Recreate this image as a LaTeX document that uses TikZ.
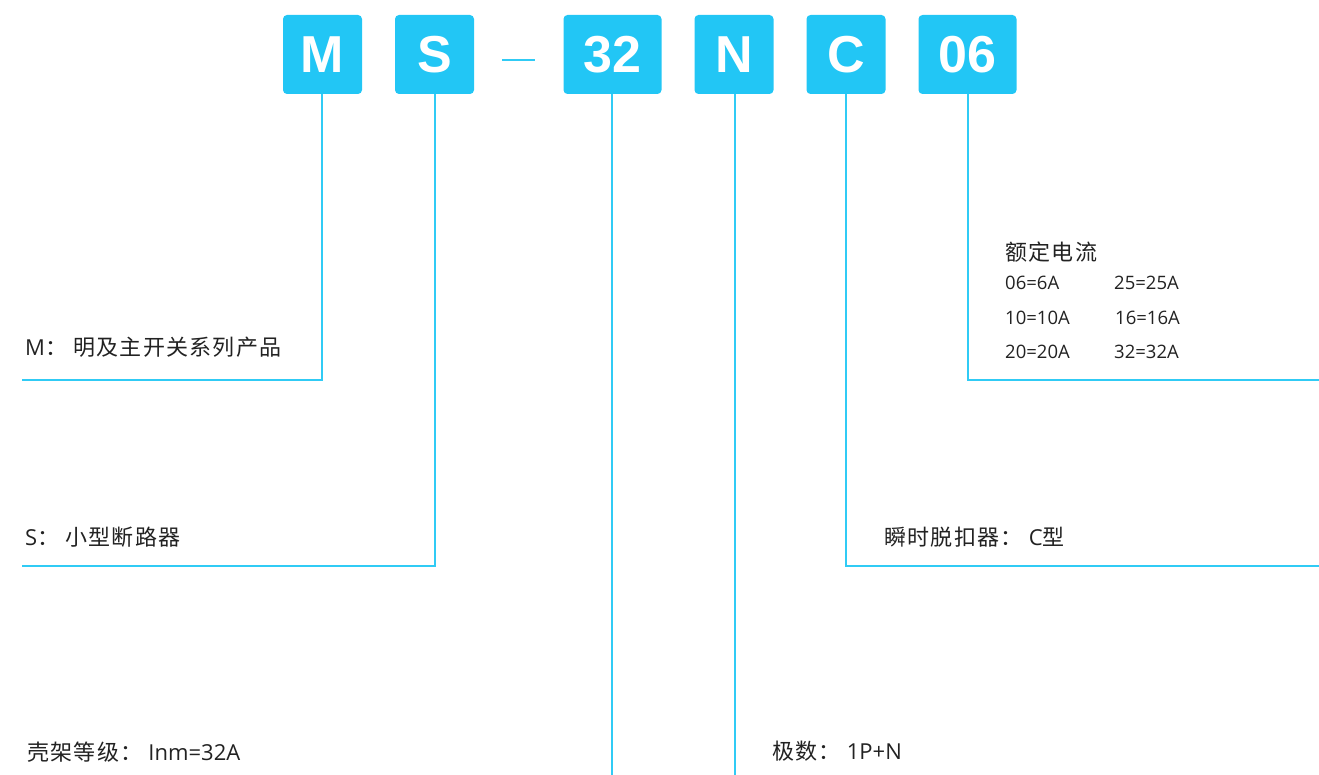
\documentclass[tikz,border=0pt]{standalone}
\usepackage{fontspec}
\newfontfamily\cjk[LetterSpace=6]{Noto Sans CJK SC}
\newfontfamily\latf{Open Sans}
\newfontfamily\boxfont{Liberation Sans}
\newcommand\lat[1]{{\latf #1}}
\newcommand\csep{：\hspace{6pt}}
\definecolor{boxblue}{HTML}{22C6F5}
\definecolor{lineblue}{HTML}{30CBF5}
\definecolor{txt}{HTML}{222222}
\tikzset{
  codebox/.style={fill=boxblue, rounded corners=4pt, text=white, inner sep=0pt,
    minimum height=79pt, font=\boxfont\bfseries\fontsize{52}{52}\selectfont},
  lead/.style={draw=lineblue, line width=2pt},
  lbl/.style={anchor=west, inner sep=0pt, text=txt, font=\cjk\fontsize{22}{26}\selectfont},
  small/.style={anchor=west, inner sep=0pt, text=txt, font=\latf\fontsize{18.5}{22}\selectfont},
}
\begin{document}
\begin{tikzpicture}[x=1pt,y=-1pt]
\useasboundingbox (0,0) rectangle (1319,775);
% boxes
\node[codebox, minimum width=79pt] (m) at (322.5,54.5) {M};
\node[codebox, minimum width=79pt] (s) at (434.5,54.5) {S};
\node[codebox, minimum width=98pt] (n32) at (612.5,54.5) {32};
\node[codebox, minimum width=79pt] (n) at (734,54.5) {N};
\node[codebox, minimum width=79pt] (c) at (846,54.5) {C};
\node[codebox, minimum width=98pt] (n06) at (967.5,54.5) {06};
% dash
\coordinate (d1) at (502,60);
\coordinate (d2) at (535,60);
\draw[lead] (d1) -- (d2);
% free ends
\coordinate (mend) at (22,380);
\coordinate (send) at (22,566);
\coordinate (e32) at (612,776);
\coordinate (en) at (735,776);
\coordinate (cend) at (1320,566);
\coordinate (e06) at (1320,380);
% connectors
\draw[lead] ([xshift=-0.5pt]m.south) |- (mend);
\draw[lead] (s.south) |- (send);
\draw[lead] ([xshift=-0.5pt]n32.south) -- ([xshift=-0.5pt]n32.south |- e32);
\draw[lead] ([xshift=1pt]n.south) -- ([xshift=1pt]n.south |- en);
\draw[lead] (c.south) |- (cend);
\draw[lead] ([xshift=0.5pt]n06.south) |- (e06);
% labels
\node[lbl] (lm) at (25,347) {\lat{M}\csep 明及主开关系列产品};
\node[lbl] (ls) at (25,537) {\lat{S}\csep 小型断路器};
\node[lbl] (l32) at (27,752) {壳架等级\csep\lat{Inm=32A}};
\node[lbl] (ln) at (772,751) {极数\csep\lat{1P+N}};
\node[lbl] (lc) at (884,537) {瞬时脱扣器\csep\lat{C}型};
\node[lbl] (l06) at (1005,252) {额定电流};
\node[small] (r1a) at (1005,283) {06=6A};
\node[small] (r1b) at (1114,283) {25=25A};
\node[small] (r2a) at (1005,318) {10=10A};
\node[small] (r2b) at (1115,318) {16=16A};
\node[small] (r3a) at (1005,352) {20=20A};
\node[small] (r3b) at (1114,352) {32=32A};
\end{tikzpicture}
\end{document}
